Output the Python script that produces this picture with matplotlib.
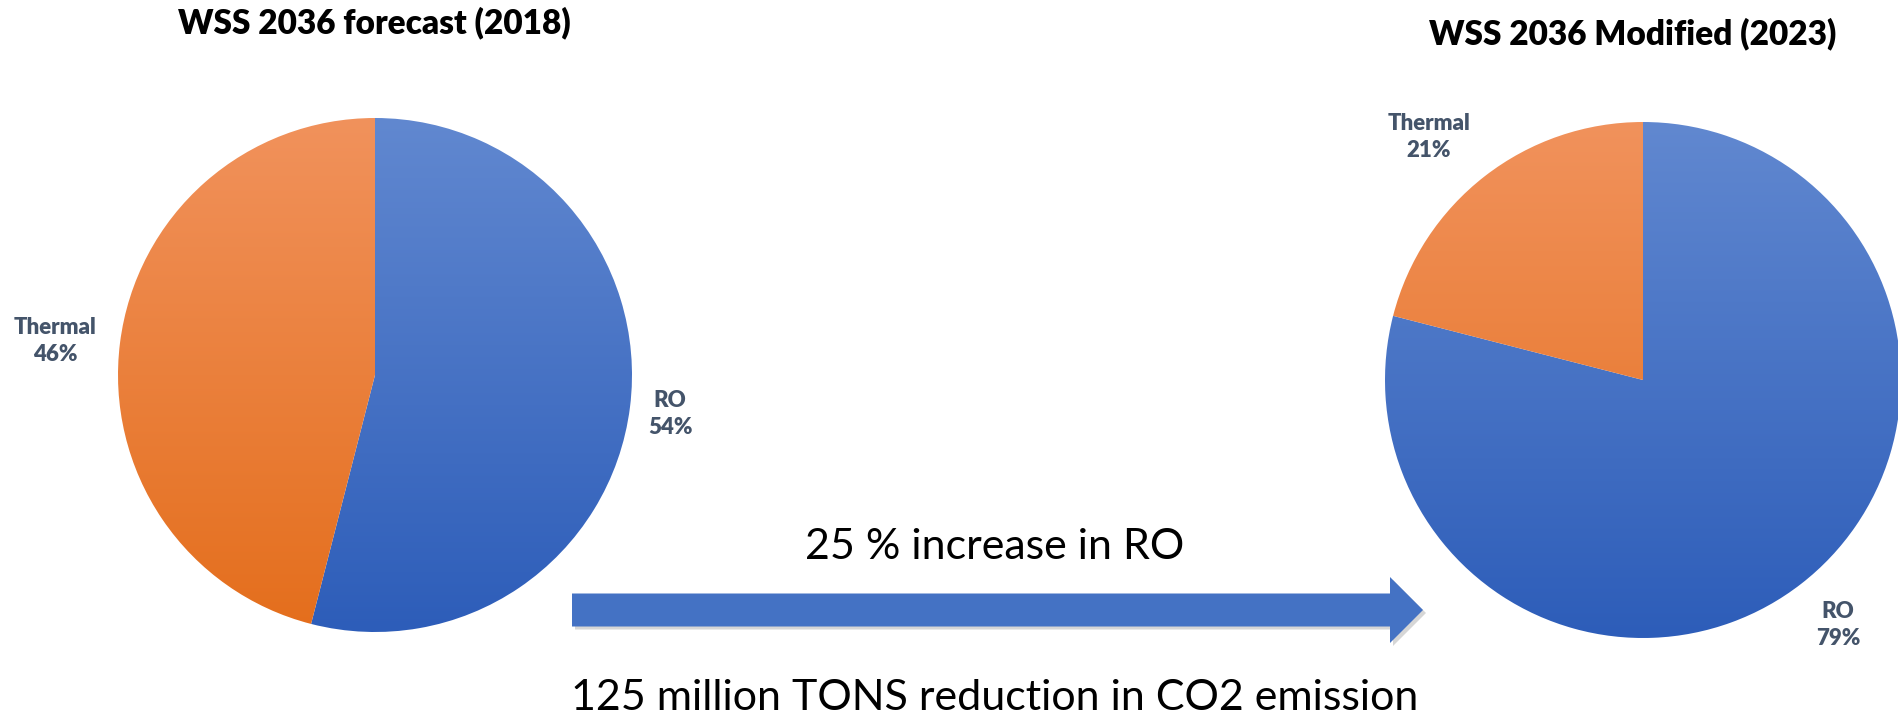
#grafico de tortas WSS 2036

#importo librerias necesarias
import numpy as np
import matplotlib.pyplot as plt
from matplotlib.patches import FancyArrow
from matplotlib.colors import LinearSegmentedColormap

# datos
categorias = ['RO', 'Thermal']
valores_2018 = [54, 46]
valores_2023 = [79, 21]
titulo_2018 = 'WSS 2036 forecast (2018)'
titulo_2023 = 'WSS 2036 Modified (2023)'
texto_arriba = '25 % increase in RO'
texto_abajo = '125 million TONS reduction in CO2 emission'

# colores (arriba -> abajo del degradado)
colores = {'RO': ('#6188D0', '#2D5DB9'), 'Thermal': ('#F1925C', '#E46E1C')}
color_label = '#44546A'

plt.rcParams['font.family'] = ['Lato', 'DejaVu Sans']

W, H = 1898, 721
fig = plt.figure(figsize=(W / 100, H / 100), dpi=100)


def torta(ax, valores):
    wedges, _ = ax.pie(valores, startangle=90, counterclock=False, radius=1,
                       colors=['none'] * len(valores),
                       wedgeprops=dict(linewidth=0))
    grad = np.linspace(0, 1, 256).reshape(-1, 1)
    for w, cat in zip(wedges, categorias):
        cmap = LinearSegmentedColormap.from_list(cat, list(colores[cat]))
        im = ax.imshow(grad, cmap=cmap, extent=[-1, 1, -1, 1], origin='upper',
                       aspect='auto', zorder=1)
        im.set_clip_path(w)
    ax.set_xlim(-1, 1)
    ax.set_ylim(-1, 1)
    ax.set_aspect('equal')
    ax.axis('off')


# tortas en pixeles (centro x, centro y desde arriba, radio)
def caja(cx, cy, r):
    return [(cx - r) / W, (H - cy - r) / H, 2 * r / W, 2 * r / H]


ax1 = fig.add_axes(caja(375, 375, 257))
torta(ax1, valores_2018)
ax2 = fig.add_axes(caja(1643, 380, 258))
torta(ax2, valores_2023)

# titulos
fig.text(374 / W, 1 - 23 / H, titulo_2018, ha='center', va='center',
         fontsize=24, fontweight='heavy', color='black')
fig.text(1633 / W, 1 - 34 / H, titulo_2023, ha='center', va='center',
         fontsize=24, fontweight='heavy', color='black')

# etiquetas de datos
pos_2018 = {'RO': (670, 414), 'Thermal': (55, 341)}
pos_2023 = {'RO': (1838, 625), 'Thermal': (1429, 137)}
for pos, valores in [(pos_2018, valores_2018), (pos_2023, valores_2023)]:
    for cat, v in zip(categorias, valores):
        x, y = pos[cat]
        fig.text(x / W, 1 - y / H, f'{cat}\n{v}%', ha='center', va='center',
                 fontsize=16, fontweight='heavy', color=color_label,
                 linespacing=1.3)

# flecha
axf = fig.add_axes([0, 0, 1, 1], zorder=-1)
axf.set_xlim(0, W)
axf.set_ylim(H, 0)
axf.axis('off')
sombra = FancyArrow(575, 613, 851, 0, width=33, head_width=66, head_length=33,
                    length_includes_head=True, color='#BBBBBB', alpha=0.6, linewidth=0)
axf.add_patch(sombra)
flecha = FancyArrow(572, 610, 851, 0, width=33, head_width=66, head_length=33,
                    length_includes_head=True, color='#4472C4', linewidth=0)
axf.add_patch(flecha)

fig.text(995 / W, 1 - 547 / H, texto_arriba, ha='center', va='center',
         fontsize=31, color='black')
fig.text(995 / W, 1 - 698 / H, texto_abajo, ha='center', va='center',
         fontsize=31, color='black')

fig.savefig('out.png', dpi=100)
